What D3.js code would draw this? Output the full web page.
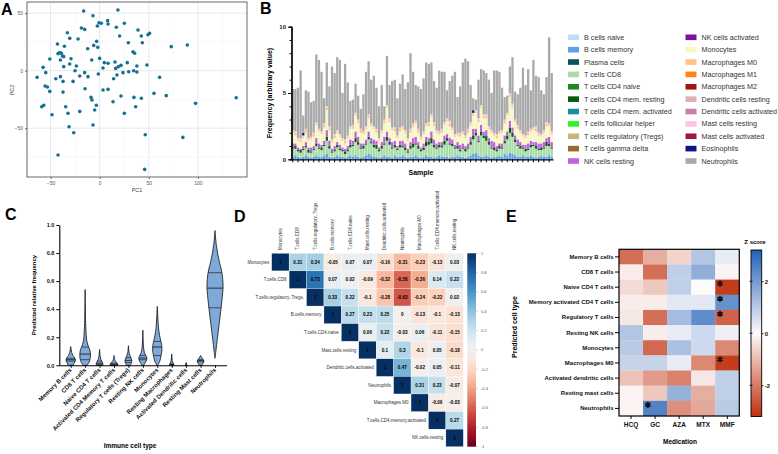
<!DOCTYPE html>
<html>
<head>
<meta charset="utf-8">
<script src="https://cdn.jsdelivr.net/npm/d3@7"></script>
<style>
  body { margin: 0; background: #fff; }
  svg { font-family: "Liberation Sans", Arial, sans-serif; }
</style>
</head>
<body>
<svg id="fig" width="778" height="454"></svg>
<script>
// ---- A: PCA scores ----
const pcX = [-63.7,-57.6,-54.9,-55.6,-53.2,-50.8,-50.8,-59,-57,-48.5,-44.7,-42.4,-43,-42.4,-40.7,-39,-38,-36.6,-40,-40,
  -35.9,-36.6,-37.3,-37.3,-34.6,-32.9,-32.2,-30.5,-30.5,-29.2,-31.2,-26.4,-27.1,-25.1,-23.7,-22,-20.3,-20.3,-18.6,-16.3,
  -15.3,-15.3,-14.9,-12.2,-11.9,-8.8,-8.1,-7.8,-6.8,-6.1,-6.8,-5.1,-3.1,-2.4,-2,-3.4,-1.4,-0.7,0,1.7,
  3.4,3.4,4.7,8.1,8.5,8.5,8.5,13.6,14.2,15.6,16.3,16.9,17.6,18.6,19,20.3,21.7,21.7,23.7,25.1,
  25.1,28.1,29.2,29.5,33.9,34.6,34.9,35.6,36.6,37.9,37.9,39,42.4,42.4,43.4,46.4,45.8,48.1,49.2,50.8,
  55.3,61,67.8,72.9,84.7,89.2,97.6,139];
const pcY = [-5.8,2.9,-1.7,-13.3,-14.2,-18,10.1,-31.3,-30.1,-38.3,-7,-73.3,23.2,14.8,15.7,15.1,12.8,12.2,9.3,-5.2,
  21.2,3.5,-9.3,-18.6,-31.3,33,-37.1,28.1,5.8,10.4,-48.7,-53.9,-9.3,0,4.1,27.5,-4.6,-35.4,37.1,51.9,
  35.9,-1.7,-15.7,19.1,-5.2,-23.2,9.3,-25.5,47.8,22,-47.2,-34.2,25.5,38.8,20.3,-30.1,-2.9,41.7,10.7,41.2,
  2.3,-16.8,7,43.5,40.6,6.4,-16.2,-27,-7,7.5,2,37.7,-3.8,52.8,3.5,30.1,4.6,-22,-1.7,41.2,
  -37.1,7,24.3,-0.9,16.5,0,-23.2,15.1,-31.3,-1.2,4.1,35.4,-24,30.1,24.3,-55.7,-85.8,4.9,31.3,32.5,
  -19.7,-5.8,-21.7,20.9,-58,22.3,-28.4,-23.5];

// ---- B: deconvolved frequencies per sample ----
const legendCells = ['B cells naive','B cells memory','Plasma cells','T cells CD8','T cells CD4 naive',
  'T cells CD4 mem. resting','T cells CD4 mem. activated','T cells follicular helper','T cells regulatory (Tregs)',
  'T cells gamma delta','NK cells resting','NK cells activated','Monocytes','Macrophages M0','Macrophages M1',
  'Macrophages M2','Dendritic cells resting','Dendritic cells activated','Mast cells resting','Mast cells activated',
  'Eosinophils','Neutrophils'];
const legendColors = ['#c5dcf6','#5ea2ee','#0f4f5c','#a9dca9','#1e8a24','#0b5a12','#1b8d9c','#2cf52c','#c6b77c',
  '#9b6a2a','#c062df','#7b12a2','#f5f7c4','#ffc384','#ff8414','#a11212','#dcb1b1','#c681a7','#ffc2e2','#a1124f',
  '#12128a','#a9a9a9'];
const bMemory = [0.2,0.3,0.2,0.1,0.2,0.3,0.2,0.1,0.2,0.3, 0.2,0.2,0.3,0.4,0.2,0.1,0.2,0.3,0.2,0.2,
  0.1,0.2,0.3,0.2,0.3,0.2,0.1,0.2,0.3,0.4, 0.3,0.2,0.2,0.1,0.2,0.3,0.2,0.2,0.1,0.3,
  0.2,0.2,0.3,0.2,0.1,0.2,0.2,0.3,0.2,0.1, 0.2,0.3,0.2,0.2,0.1,0.2,0.3,0.2,0.2,0.2,
  0.1,0.2,0.2,0.3,0.2,0.2,0.1,0.2,0.3,0.4, 0.5,0.3,0.2,0.2,0.3,0.2,0.1,0.2,0.2,0.3,
  0.2,0.4,0.3,0.5,0.4,0.3,0.2,0.2,0.3,0.2, 0.2,0.3,0.2,0.1,0.2,0.3,0.2,0.2,0.3,0.2];
const tCD8 = [0.6,0.5,0.4,0.4,0.5,0.6,0.3,0.4,0.5,0.7, 0.6,0.5,0.7,1.0,0.6,0.4,0.4,0.6,0.5,0.4,
  0.3,0.4,0.6,0.8,1.0,0.9,0.7,0.6,0.8,1.1, 0.9,0.7,0.6,0.5,0.6,0.8,1.2,0.9,0.7,0.6,
  0.5,0.7,0.6,0.5,0.4,0.6,0.7,0.8,0.6,0.5, 0.5,0.7,0.9,1.0,0.8,0.6,0.6,0.7,0.9,1.2,
  1.0,0.8,0.6,0.5,0.4,0.6,0.5,0.6,0.8,1.1, 1.3,1.0,1.6,1.4,1.1,0.9,0.7,0.5,0.4,0.5,
  0.6,0.8,1.2,1.5,1.3,1.0,0.8,0.6,0.5,0.4, 0.5,0.6,0.8,0.7,0.5,0.4,0.6,0.8,0.7,0.6];
const tCD4Resting = [0.1,0.2,0.1,0.2,0.1,0.1,0.2,0.1,0.1,0.2, 0.1,0.2,0.1,0.3,0.2,0.1,0.1,0.2,0.1,0.1,
  0.2,0.1,0.2,0.1,0.3,0.2,0.1,0.2,0.1,0.2, 0.1,0.2,0.3,0.1,0.2,0.1,0.3,0.2,0.1,0.2,
  0.1,0.2,0.1,0.2,0.1,0.2,0.3,0.1,0.2,0.1, 0.2,0.3,0.2,0.4,0.2,0.1,0.2,0.1,0.3,0.2,
  0.1,0.2,0.1,0.2,0.1,0.1,0.2,0.1,0.2,0.3, 0.2,0.1,0.3,0.2,0.4,0.2,0.1,0.2,0.1,0.2,
  0.1,0.2,0.3,0.4,0.3,0.2,0.1,0.2,0.1,0.2, 0.1,0.2,0.1,0.2,0.1,0.2,0.1,0.3,0.2,0.1];
const nkResting = [0.3,0.2,0.2,0.1,0.2,0.3,0.2,0.3,0.2,0.4, 0.3,0.2,0.3,0.5,0.4,0.2,0.3,0.2,0.3,0.2,
  0.2,0.3,0.4,0.3,0.5,0.4,0.3,0.2,0.3,0.4, 0.3,0.4,0.3,0.2,0.3,0.5,0.4,0.3,0.4,0.3,
  0.2,0.3,0.4,0.3,0.2,0.3,0.4,0.5,0.3,0.2, 0.3,0.4,0.3,0.5,0.4,0.3,0.2,0.3,0.4,0.3,
  0.4,0.3,0.2,0.3,0.4,0.3,0.2,0.3,0.4,0.5, 0.3,0.4,0.5,0.3,0.4,0.3,0.5,0.4,0.3,0.2,
  0.3,0.4,0.3,0.5,0.4,0.3,0.4,0.3,0.2,0.3, 0.4,0.3,0.2,0.3,0.4,0.3,0.4,0.3,0.5,0.4];
const monocytes = [0.8,0.6,0.5,0.5,0.6,0.7,0.5,0.6,0.7,1.0, 0.9,0.8,1.0,1.5,0.8,0.5,0.6,0.7,0.6,0.5,
  0.4,0.6,0.8,0.9,1.2,1.0,0.8,0.7,0.8,1.0, 0.9,0.8,0.6,0.5,0.7,1.0,1.8,1.2,0.9,0.7,
  0.6,0.7,0.9,0.8,0.6,0.7,0.8,1.0,0.7,0.6, 0.7,0.8,0.9,1.1,1.0,0.8,0.6,0.7,0.8,1.0,
  0.9,0.7,0.6,0.5,0.6,0.7,0.6,0.8,0.9,1.0, 1.2,1.0,1.3,1.0,0.9,0.7,0.6,0.5,0.6,0.7,
  0.8,0.9,1.2,1.8,1.5,1.0,0.8,0.7,0.6,0.5, 0.6,0.7,0.9,0.8,0.6,0.5,0.7,0.9,0.8,0.6];
const macM0 = [0.1,0.2,0.1,0.1,0.1,0.2,0.1,0.1,0.2,0.1, 0.1,0.1,0.2,0.2,0.1,0.1,0.2,0.1,0.1,0.1,
  0.2,0.1,0.1,0.2,0.1,0.1,0.2,0.1,0.1,0.2, 0.1,0.1,0.2,0.1,0.1,0.2,0.1,0.1,0.1,0.2,
  0.1,0.2,0.1,0.1,0.1,0.2,0.1,0.1,0.2,0.1, 0.1,0.1,0.2,0.1,0.2,0.1,0.1,0.2,0.1,0.1,
  0.2,0.1,0.1,0.1,0.2,0.1,0.1,0.2,0.1,0.1, 0.1,0.2,0.1,0.1,0.2,0.1,0.1,0.1,0.2,0.1,
  0.1,0.2,0.1,0.2,0.1,0.1,0.2,0.1,0.1,0.1, 0.2,0.1,0.1,0.2,0.1,0.1,0.1,0.2,0.1,0.1];
const mastResting = [0.1,0.1,0.1,0.2,0.1,0.1,0.1,0.1,0.1,0.1, 0.1,0.1,0.1,0.1,0.2,0.1,0.1,0.1,0.1,0.1,
  0.1,0.1,0.1,0.1,0.1,0.2,0.1,0.1,0.1,0.1, 0.1,0.1,0.1,0.1,0.1,0.1,0.1,0.2,0.1,0.1,
  0.1,0.1,0.1,0.1,0.1,0.1,0.2,0.1,0.1,0.1, 0.1,0.1,0.1,0.1,0.1,0.1,0.1,0.1,0.1,0.1,
  0.2,0.1,0.1,0.1,0.1,0.1,0.1,0.1,0.1,0.1, 0.1,0.1,0.1,0.2,0.1,0.1,0.1,0.1,0.1,0.1,
  0.1,0.1,0.1,0.1,0.2,0.1,0.1,0.1,0.1,0.1, 0.1,0.1,0.1,0.2,0.1,0.1,0.1,0.1,0.1,0.1];
const eosinophils = [0,0,0,0,0.2,0,0,0,0,0, 0,0,0,0,0,0,0,0,0,0, 0,0,0,0,0,0,0,0,0,0, 0,0,0,0,0,0,0,0,0,0,
  0,0,0,0,0,0,0,0,0,0, 0,0,0,0,0,0,0,0,0,0, 0,0,0,0,0,0,0,0,0,0.2, 0,0,0,0,0,0,0,0,0,0,
  0,0,0,0,0,0,0,0,0,0, 0,0,0,0,0,0,0,0,0,0];
const neutrophils = [3.1,3.2,3.8,5.1,1.3,2.9,3.5,2.6,2.4,5.1, 5.2,4.5,1.9,3.3,3.0,5.5,4.6,5.5,5.6,3.4,
  5.7,4.0,1.9,1.9,2.2,1.8,1.5,2.8,4.1,4.0, 3.3,3.8,3.1,2.4,3.4,1.0,3.7,2.5,3.5,3.6,
  2.8,3.3,3.9,3.1,4.2,5.7,3.9,2.7,3.2,3.6, 4.0,4.6,4.4,3.9,3.1,3.2,4.6,4.3,3.8,2.1,
  3.0,3.9,4.7,2.7,3.5,5.2,5.8,5.1,2.8,0.9, 0.8,2.9,2.7,3.3,3.1,3.5,2.8,4.7,4.8,4.5,
  3.2,1.7,1.3,2.0,3.5,2.1,2.3,3.2,5.0,3.8, 4.7,2.9,5.1,3.8,4.2,3.3,2.7,3.4,6.5,4.4];

// ---- C: violin summaries ----
const cTypes = ['Memory B cells','CD8 T cells','Naive CD4 T cells','Activated CD4 Memory T cells',
  'Regulatory T cells (Tregs)','Resting NK cells','Monocytes','Resting Macrophages',
  'Activated Dendritic cells','Resting Mast cells','Neutrophils'];
// [value, relative density]
const cDensity = [
  [[0,0.3],[0.01,0.35],[0.025,0.5],[0.04,0.55],[0.055,0.45],[0.07,0.25],[0.09,0.12],[0.11,0.06],[0.133,0]],
  [[0,0.2],[0.02,0.45],[0.05,0.6],[0.08,0.62],[0.11,0.55],[0.14,0.35],[0.18,0.18],[0.25,0.1],[0.3,0.06],[0.4,0.03],[0.54,0]],
  [[0,0.35],[0.01,0.4],[0.025,0.3],[0.04,0.17],[0.06,0.08],[0.09,0.03],[0.114,0]],
  [[0,0.4],[0.008,0.45],[0.02,0.3],[0.035,0.12],[0.05,0.05],[0.07,0]],
  [[0,0.2],[0.015,0.35],[0.03,0.4],[0.045,0.35],[0.06,0.25],[0.08,0.12],[0.1,0.06],[0.14,0]],
  [[0,0.1],[0.02,0.3],[0.04,0.45],[0.055,0.47],[0.07,0.35],[0.09,0.2],[0.12,0.1],[0.16,0.05],[0.2,0.02],[0.25,0]],
  [[0,0.05],[0.03,0.3],[0.07,0.45],[0.11,0.55],[0.15,0.5],[0.19,0.35],[0.24,0.2],[0.3,0.1],[0.36,0.05],[0.42,0]],
  [[0,0.25],[0.01,0.22],[0.025,0.1],[0.045,0.05],[0.08,0]],
  [[0,0.08],[0.01,0.05],[0.02,0]],
  [[0,0.15],[0.015,0.3],[0.03,0.4],[0.045,0.25],[0.06,0.08],[0.07,0]],
  [[0.05,0],[0.1,0.1],[0.2,0.3],[0.3,0.5],[0.4,0.7],[0.5,0.88],[0.56,0.95],[0.62,0.9],[0.68,0.75],[0.74,0.5],[0.8,0.3],[0.86,0.15],[0.92,0.05],[0.96,0]]
];
const cQuartiles = [[0.03,0.04,0.05],[0.04,0.08,0.13],[0.005,0.015,0.03],[0.003,0.008,0.015],[0.02,0.035,0.055],
  [0.04,0.052,0.07],[0.07,0.13,0.17],[0.002,0.005,0.01],[0,0,0.002],[0.025,0.033,0.04],[0.41,0.55,0.66]];

// ---- D: correlation matrix (upper triangle, row by row) ----
const dNames = ['Monocytes','T.cells.CD8','T.cells.regulatory..Tregs.','B.cells.memory','T.cells.CD4.naive',
  'Mast.cells.resting','Dendritic.cells.activated','Neutrophils','Macrophages.M0','T.cells.CD4.memory.activated','NK.cells.resting'];
const dCorr = [
  [1,0.31,0.34,-0.05,0.07,0.07,-0.16,-0.31,-0.23,-0.13,0.03],
  [1,0.73,0.07,0.02,-0.09,-0.32,-0.58,-0.36,0.14,0.22],
  [1,0.33,0.22,-0.1,-0.28,-0.63,-0.24,-0.22,0.02],
  [1,0.27,0.23,0.25,0,-0.13,-0.1,-0.13],
  [1,0.06,0.22,-0.03,0.06,-0.11,-0.15],
  [1,0.1,0.3,-0.1,0.05,-0.18],
  [1,0.47,-0.02,0.05,-0.11],
  [1,0.31,0.23,-0.07],
  [1,-0.06,-0.03],
  [1,0.27],
  [1]
];
const dTicks = [1,0.8,0.6,0.4,0.2,0,-0.2,-0.4,-0.6,-0.8,-1];

// ---- E: z scores by medication ----
const eRows = ['Memory B cells','CD8 T cells','Naive CD4 T cells','Memory activated CD4 T cells','Regulatory T cells',
  'Resting NK cells','Monocytes','Macrophages M0','Activated dendritic cells','Resting mast cells','Neutrophils'];
const eCols = ['HCQ','GC','AZA','MTX','MMF'];
const zScores = [
  [-2.2,-1.2,-0.6,1.1,0.3],
  [-0.2,-2.2,0.9,1.6,-0.1],
  [-0.5,-0.8,0.9,0.0,-3.0],
  [-0.2,-0.2,0.4,0.4,2.2],
  [-0.3,-2.2,1.3,2.3,-2.4],
  [1.1,-0.2,0.3,0.7,0.2],
  [1.0,-2.3,1.2,0.7,-1.8],
  [0.8,0.8,0.3,-1.8,-3.0],
  [-0.9,-1.5,-1.9,-0.3,0.9],
  [-0.1,-0.8,1.5,-1.2,0.9],
  [-0.1,2.5,-1.7,-1.3,1.0]
];
const sigCells = [[2,4],[3,4],[4,4],[7,4],[10,1]];
const zTicks = [2,0,-2];

const svg = d3.select('#fig');
svg.append('rect').attr('width', 778).attr('height', 454).attr('fill', '#fff');

function letter(t, x, y) {
  svg.append('text').attr('x', x).attr('y', y)
    .attr('font-size', 16).attr('font-weight', 'bold').attr('fill', '#000').text(t);
}

// ================= A =================
const ax = d3.scaleLinear().domain([-74, 150]).range([27, 247]);
const ay = d3.scaleLinear().domain([-92.4, 59.7]).range([177, 2]);
const gA = svg.append('g');
gA.selectAll('line.gx').data([-75,-50,-25,0,25,50,75,100,125]).enter().append('line')
  .attr('x1', d => ax(d)).attr('x2', d => ax(d)).attr('y1', 2).attr('y2', 177)
  .attr('stroke', d => d % 50 === 0 ? '#d9e4eb' : '#edf2f5').attr('stroke-width', d => d % 50 === 0 ? 0.8 : 0.5);
gA.selectAll('line.gy').data([-75,-50,-25,0,25,50]).enter().append('line')
  .attr('y1', d => ay(d)).attr('y2', d => ay(d)).attr('x1', 27).attr('x2', 247)
  .attr('stroke', d => d % 50 === 0 ? '#d9e4eb' : '#edf2f5').attr('stroke-width', d => d % 50 === 0 ? 0.8 : 0.5);
gA.selectAll('circle').data(d3.range(pcX.length)).enter().append('circle')
  .attr('cx', i => ax(pcX[i])).attr('cy', i => ay(pcY[i])).attr('r', 1.8).attr('fill', '#17708f');
gA.append('rect').attr('x', 27).attr('y', 2).attr('width', 220).attr('height', 175)
  .attr('fill', 'none').attr('stroke', '#444').attr('stroke-width', 0.8);
const axA = gA.append('g').attr('transform', 'translate(0,177)')
  .call(d3.axisBottom(ax).tickValues([-50,0,50,100]).tickSize(2).tickSizeOuter(0).tickPadding(2));
const ayA = gA.append('g').attr('transform', 'translate(27,0)')
  .call(d3.axisLeft(ay).tickValues([-50,0,50]).tickSize(2).tickSizeOuter(0).tickPadding(2));
[axA, ayA].forEach(g => {
  g.select('.domain').remove();
  g.selectAll('line').attr('stroke', '#666');
  g.selectAll('text').attr('font-size', 5).attr('fill', '#555').attr('font-family', null);
});
gA.append('text').attr('x', 137).attr('y', 192).attr('text-anchor', 'middle')
  .attr('font-size', 5.5).attr('fill', '#444').text('PC1');
gA.append('text').attr('transform', 'translate(14,90) rotate(-90)').attr('text-anchor', 'middle')
  .attr('font-size', 5.5).attr('fill', '#444').text('PC2');
letter('A', 1, 15);

// ================= B =================
const sampleRows = d3.range(neutrophils.length).map(i => ({
  'B cells memory': bMemory[i], 'T cells CD8': tCD8[i], 'T cells CD4 mem. resting': tCD4Resting[i],
  'NK cells resting': nkResting[i], 'Monocytes': monocytes[i], 'Macrophages M0': macM0[i],
  'Mast cells resting': mastResting[i], 'Eosinophils': eosinophils[i], 'Neutrophils': neutrophils[i]
}));
const stackKeys = ['B cells memory','T cells CD8','T cells CD4 mem. resting','NK cells resting','Monocytes',
  'Macrophages M0','Mast cells resting','Eosinophils','Neutrophils'];
const colorB = d3.scaleOrdinal().domain(legendCells).range(legendColors);
const bx = d3.scaleBand().domain(d3.range(neutrophils.length)).range([291.5, 553]).paddingInner(0.12).paddingOuter(0.05);
const by = d3.scaleLinear().domain([0, 10]).range([159.3, 26.7]);
const gB = svg.append('g');
gB.selectAll('g.layer').data(d3.stack().keys(stackKeys)(sampleRows)).enter().append('g')
  .attr('fill', d => colorB(d.key))
  .selectAll('rect').data(d => d).enter().append('rect')
  .attr('x', (d, i) => bx(i)).attr('width', bx.bandwidth())
  .attr('y', d => by(d[1])).attr('height', d => by(d[0]) - by(d[1]));
const byMinor = gB.append('g').attr('transform', 'translate(291.5,0)')
  .call(d3.axisLeft(by).tickValues(d3.range(0, 11)).tickSize(2).tickFormat(''));
const byMajor = gB.append('g').attr('transform', 'translate(291.5,0)')
  .call(d3.axisLeft(by).tickValues([0, 5, 10]).tickSize(3.5).tickSizeOuter(0).tickPadding(2));
const bxAxis = gB.append('g').attr('transform', 'translate(0,159.3)')
  .call(d3.axisBottom(bx).tickValues(d3.range(0, neutrophils.length, 2)).tickSize(3).tickSizeOuter(0).tickFormat(''));
[byMinor, byMajor, bxAxis].forEach(g => {
  g.select('.domain').attr('stroke', '#000').attr('stroke-width', 1.2);
  g.selectAll('line').attr('stroke', '#000').attr('stroke-width', 1);
  g.selectAll('text').attr('font-size', 6).attr('font-weight', 'bold').attr('fill', '#111').attr('font-family', null);
});
gB.append('text').attr('transform', 'translate(272,93) rotate(-90)').attr('text-anchor', 'middle')
  .attr('font-size', 7).attr('font-weight', 'bold').text('Frequency (arbitrary value)');
gB.append('text').attr('x', 421).attr('y', 175).attr('text-anchor', 'middle')
  .attr('font-size', 7).attr('font-weight', 'bold').text('Sample');
const legB = gB.append('g').selectAll('g').data(legendCells).enter().append('g')
  .attr('transform', (d, i) => `translate(${i < 11 ? 568 : 685.5},${37.3 + (i % 11) * 12.37})`);
legB.append('rect').attr('x', 0).attr('y', -2.8).attr('width', 11).attr('height', 5.6).attr('fill', d => colorB(d));
legB.append('text').attr('x', 16).attr('y', 2.6).attr('font-size', 7.2).attr('fill', '#333').text(d => d);
letter('B', 260, 14);

// ================= C =================
const cx = d3.scalePoint().domain(cTypes).range([70.7, 215]);
const cy = d3.scaleLinear().domain([0, 1]).range([365.3, 225]);
const cw = d3.scaleLinear().domain([0, 1]).range([0, 8.5]);
const gC = svg.append('g');
function densityAt(prof, v) {
  for (let k = 0; k < prof.length - 1; k++) {
    const a = prof[k], b = prof[k + 1];
    if (v >= a[0] && v <= b[0]) return a[1] + (b[1] - a[1]) * (v - a[0]) / (b[0] - a[0]);
  }
  return 0;
}
cTypes.forEach((name, i) => {
  const mid = cx(name);
  const area = d3.area().curve(d3.curveCatmullRom)
    .y(d => cy(d[0])).x0(d => mid - cw(d[1])).x1(d => mid + cw(d[1]));
  gC.append('path').attr('d', area(cDensity[i]))
    .attr('fill', '#7fa9d9').attr('stroke', '#111').attr('stroke-width', 0.8);
  cQuartiles[i].forEach((q, k) => {
    const w = Math.max(cw(densityAt(cDensity[i], q)), 0.6);
    gC.append('line').attr('x1', mid - w).attr('x2', mid + w).attr('y1', cy(q)).attr('y2', cy(q))
      .attr('stroke', '#111').attr('stroke-width', k === 1 ? 0.8 : 0.6);
  });
});
const cyAxis = gC.append('g').attr('transform', 'translate(59.3,0)')
  .call(d3.axisLeft(cy).tickValues([0,0.2,0.4,0.6,0.8,1.0]).tickFormat(d3.format('.1f')).tickSize(3).tickSizeOuter(0).tickPadding(2));
const cxAxis = gC.append('g').attr('transform', 'translate(0,365.3)')
  .call(d3.axisBottom(cx).tickSize(2.5).tickSizeOuter(0).tickFormat(''));
cxAxis.select('.domain').attr('d', 'M59.3,0.5H227');
[cyAxis, cxAxis].forEach(g => {
  g.select('.domain').attr('stroke', '#000').attr('stroke-width', 1.1);
  g.selectAll('line').attr('stroke', '#000');
  g.selectAll('text').attr('font-size', 5.5).attr('font-weight', 'bold').attr('fill', '#111').attr('font-family', null);
});
gC.selectAll('text.xl').data(cTypes).enter().append('text')
  .attr('transform', d => `translate(${cx(d) + 1.5},${370.5}) rotate(-45)`)
  .attr('text-anchor', 'end').attr('font-size', 6).attr('font-weight', 'bold').attr('fill', '#111').text(d => d);
gC.append('text').attr('transform', 'translate(36,295) rotate(-90)').attr('text-anchor', 'middle')
  .attr('font-size', 6).attr('font-weight', 'bold').text('Predicted relative frequency');
gC.append('text').attr('x', 130).attr('y', 448).attr('text-anchor', 'middle')
  .attr('font-size', 6.5).attr('font-weight', 'bold').text('Immune cell type');
letter('C', 5, 220);

// ================= D =================
const dx = d3.scaleBand().domain(d3.range(dNames.length)).range([271.7, 463.3]);
const dy = d3.scaleBand().domain(d3.range(dNames.length)).range([253.3, 446.7]);
const dColor = v => d3.interpolateRdBu((v + 1) / 2);
const gD = svg.append('g');
const dCells = [];
dCorr.forEach((row, r) => row.forEach((v, k) => dCells.push({ r: r, c: r + k, v: v })));
gD.selectAll('rect.cell').data(dCells).enter().append('rect')
  .attr('x', d => dx(d.c)).attr('y', d => dy(d.r)).attr('width', dx.bandwidth()).attr('height', dy.bandwidth())
  .attr('fill', d => dColor(d.v)).attr('stroke', '#fff').attr('stroke-width', 0.3);
gD.selectAll('text.val').data(dCells).enter().append('text')
  .attr('x', d => dx(d.c) + dx.bandwidth() / 2).attr('y', d => dy(d.r) + dy.bandwidth() / 2 + 1.6)
  .attr('text-anchor', 'middle').attr('font-size', 4.6).attr('font-weight', 'bold').attr('fill', '#000')
  .text(d => String(d.v));
gD.selectAll('text.rl').data(dNames).enter().append('text')
  .attr('x', (d, i) => dx(i) - 2.5).attr('y', (d, i) => dy(i) + dy.bandwidth() / 2 + 1.5)
  .attr('text-anchor', 'end').attr('font-size', 4.5).attr('fill', '#333').text(d => d);
gD.selectAll('text.cl').data(dNames).enter().append('text')
  .attr('transform', (d, i) => `translate(${dx(i) + dx.bandwidth() / 2 + 1.5},250) rotate(-90)`)
  .attr('text-anchor', 'start').attr('font-size', 4.5).attr('fill', '#333').text(d => d);
const dGrad = svg.append('defs').append('linearGradient').attr('id', 'dgrad')
  .attr('x1', 0).attr('y1', 0).attr('x2', 0).attr('y2', 1);
d3.range(0, 1.0001, 0.05).forEach(t => dGrad.append('stop').attr('offset', t).attr('stop-color', dColor(1 - 2 * t)));
const dScaleBar = d3.scaleLinear().domain([1, -1]).range([253.3, 446.7]);
gD.append('rect').attr('x', 467.3).attr('y', 253.3).attr('width', 8.7).attr('height', 193.4).attr('fill', 'url(#dgrad)');
gD.selectAll('line.dt').data(dTicks).enter().append('line')
  .attr('x1', 476).attr('x2', 478).attr('y1', d => dScaleBar(d)).attr('y2', d => dScaleBar(d))
  .attr('stroke', '#999').attr('stroke-width', 0.4);
gD.selectAll('text.dt').data(dTicks).enter().append('text')
  .attr('x', 481).attr('y', d => dScaleBar(d) + 1.3).attr('font-size', 4).attr('fill', '#555').text(d => String(d));
letter('D', 234, 222);

// ================= E =================
const ex = d3.scaleBand().domain(eCols).range([619, 739.3]);
const ey = d3.scaleBand().domain(eRows).range([249.3, 416]);
const eColor = d3.scaleLinear().domain([-3.2, 0, 3.2]).range(['#c0300c', '#fdfafa', '#2261b8']);
const gE = svg.append('g');
const eCells = [];
zScores.forEach((row, r) => row.forEach((v, c) => eCells.push({ r: eRows[r], c: eCols[c], v: v })));
gE.selectAll('rect.cell').data(eCells).enter().append('rect')
  .attr('x', d => ex(d.c)).attr('y', d => ey(d.r)).attr('width', ex.bandwidth() + 0.2).attr('height', ey.bandwidth() + 0.2)
  .attr('fill', d => eColor(d.v));
gE.append('rect').attr('x', 619).attr('y', 249.3).attr('width', 120.3).attr('height', 166.7)
  .attr('fill', 'none').attr('stroke', '#000').attr('stroke-width', 1.2);
gE.selectAll('path.star').data(sigCells).enter().append('path')
  .attr('d', d3.symbol().type(d3.symbolAsterisk).size(26))
  .attr('transform', d => `translate(${ex(eCols[d[1]]) + 4.8},${ey(eRows[d[0]]) + 4})`)
  .attr('stroke', '#111').attr('stroke-width', 1.6).attr('fill', 'none');
const eyAxis = gE.append('g').attr('transform', 'translate(619,0)')
  .call(d3.axisLeft(ey).tickSize(4).tickSizeOuter(0).tickPadding(1.5));
const exAxis = gE.append('g').attr('transform', 'translate(0,416)')
  .call(d3.axisBottom(ex).tickSize(3).tickSizeOuter(0).tickPadding(3));
[eyAxis, exAxis].forEach(g => {
  g.select('.domain').remove();
  g.selectAll('line').attr('stroke', '#000').attr('stroke-width', 1);
  g.selectAll('text').attr('font-weight', 'bold').attr('fill', '#111').attr('font-family', null);
});
eyAxis.selectAll('text').attr('font-size', 6);
exAxis.selectAll('text').attr('font-size', 6.5);
gE.append('text').attr('x', 680).attr('y', 444).attr('text-anchor', 'middle')
  .attr('font-size', 6.5).attr('font-weight', 'bold').text('Medication');
gE.append('text').attr('transform', 'translate(517,327) rotate(-90)').attr('text-anchor', 'middle')
  .attr('font-size', 7).attr('font-weight', 'bold').text('Predicted cell type');
const eGrad = svg.select('defs').append('linearGradient').attr('id', 'egrad')
  .attr('x1', 0).attr('y1', 0).attr('x2', 0).attr('y2', 1);
d3.range(0, 1.0001, 0.05).forEach(t => eGrad.append('stop').attr('offset', t).attr('stop-color', eColor(3.2 - 6.4 * t)));
const eScaleBar = d3.scaleLinear().domain([3.2, -3.2]).range([250, 416.5]);
gE.append('rect').attr('x', 751).attr('y', 250).attr('width', 10.7).attr('height', 166.5)
  .attr('fill', 'url(#egrad)').attr('stroke', '#000').attr('stroke-width', 0.9);
gE.selectAll('line.zl').data(zTicks).enter().append('line')
  .attr('x1', 749.5).attr('x2', 752.5).attr('y1', d => eScaleBar(d)).attr('y2', d => eScaleBar(d))
  .attr('stroke', '#000').attr('stroke-width', 0.8);
const eBarAxis = gE.append('g').attr('transform', 'translate(761.7,0)')
  .call(d3.axisRight(eScaleBar).tickValues(zTicks).tickFormat(d => String(d)).tickSize(2).tickSizeOuter(0).tickPadding(1));
eBarAxis.select('.domain').remove();
eBarAxis.selectAll('line').attr('stroke', '#000').attr('stroke-width', 0.8);
eBarAxis.selectAll('text').attr('font-size', 6).attr('font-weight', 'bold').attr('fill', '#111').attr('font-family', null);
gE.append('text').attr('x', 755).attr('y', 244).attr('text-anchor', 'middle')
  .attr('font-size', 6).attr('font-weight', 'bold').text('Z score');
letter('E', 506, 222);
</script>
</body>
</html>
